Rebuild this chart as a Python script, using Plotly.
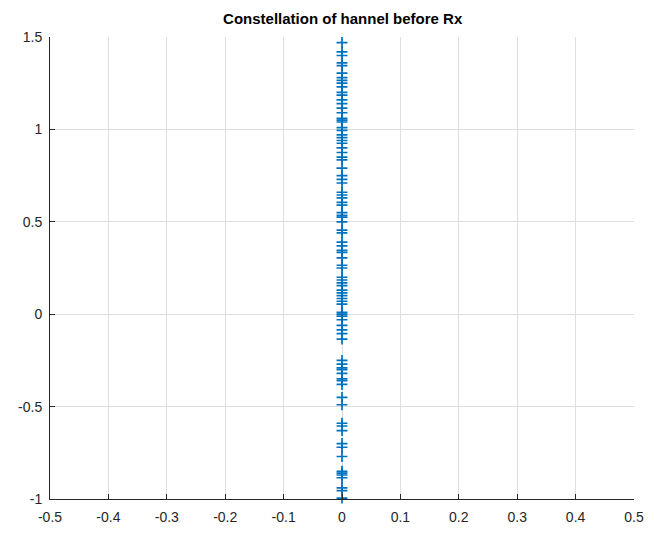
import plotly.graph_objects as go

# Received symbols: real part is zero, imaginary/quadrature values on y
in_phase = 0.0
quadrature = [
    1.47, 1.42, 1.40, 1.36, 1.345, 1.305, 1.28, 1.265, 1.25, 1.23,
    1.20, 1.185, 1.16, 1.14, 1.115, 1.09, 1.06, 1.05, 1.04, 1.01,
    0.995, 0.97, 0.955, 0.94, 0.925, 0.90, 0.875, 0.85, 0.835, 0.79,
    0.75, 0.73, 0.71, 0.66, 0.645, 0.63, 0.605, 0.59, 0.55, 0.535,
    0.525, 0.50, 0.455, 0.44, 0.39, 0.37, 0.345, 0.335, 0.305, 0.265,
    0.25, 0.20, 0.185, 0.17, 0.155, 0.13, 0.115, 0.10, 0.085, 0.07,
    0.055, 0.01, 0.0, -0.01, -0.03, -0.06, -0.085, -0.105, -0.135,
    -0.25, -0.27, -0.29, -0.30, -0.32, -0.35, -0.36, -0.38, -0.45,
    -0.49, -0.59, -0.605, -0.63, -0.70, -0.72, -0.77, -0.85, -0.86,
    -0.87, -0.885, -0.94, -0.955, -0.995,
]

x_ticks = [-0.5, -0.4, -0.3, -0.2, -0.1, 0, 0.1, 0.2, 0.3, 0.4, 0.5]
x_labels = ["-0.5", "-0.4", "-0.3", "-0.2", "-0.1", "0", "0.1", "0.2", "0.3", "0.4", "0.5"]
y_ticks = [-1, -0.5, 0, 0.5, 1, 1.5]
y_labels = ["-1", "-0.5", "0", "0.5", "1", "1.5"]

blue = "#0072BD"
axis_col = "#262626"
grid_col = "#dedede"
font = "Liberation Sans, Arial, sans-serif"

fig = go.Figure()
fig.add_trace(go.Scatter(
    x=[in_phase] * len(quadrature),
    y=quadrature,
    mode="markers",
    marker=dict(symbol="cross-thin", size=7.8, color=blue,
                line=dict(color=blue, width=1.7)),
    cliponaxis=False,
    showlegend=False,
))

axis_common = dict(
    showgrid=True, gridcolor=grid_col, gridwidth=1,
    zeroline=False, showline=True, linecolor=axis_col, linewidth=1,
    ticks="inside", ticklen=5, tickcolor=axis_col, tickwidth=1,
    tickfont=dict(family=font, size=14, color=axis_col),
    mirror=False,
)

fig.update_layout(
    width=654, height=535,
    margin=dict(l=50, r=10, t=37, b=35),
    paper_bgcolor="white", plot_bgcolor="white",
    title=dict(text="<b>Constellation of hannel before Rx</b>",
               font=dict(family=font, size=15, color="black"),
               x=0.524, xanchor="center", xref="container",
               y=1 - 19 / 535, yanchor="middle", yref="container"),
    xaxis=dict(range=[-0.5, 0.5], tickvals=x_ticks, ticktext=x_labels,
               ticklabelstandoff=5, **axis_common),
    yaxis=dict(range=[-1, 1.5], tickvals=y_ticks, ticktext=y_labels,
               ticklabelstandoff=4, **axis_common),
)

fig.write_html("out.html")
